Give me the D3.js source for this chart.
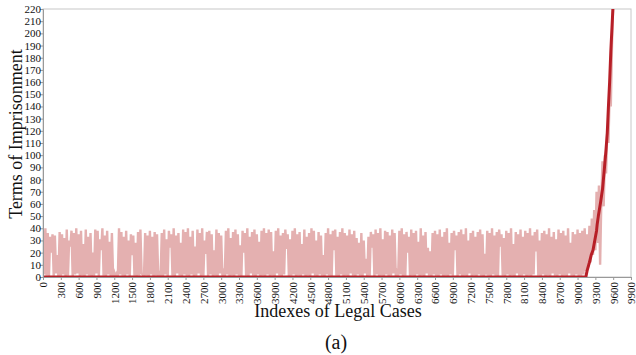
<!DOCTYPE html>
<html>
<head>
<meta charset="utf-8">
<script src="https://cdn.jsdelivr.net/npm/d3@7"></script>
<style>
  body { margin: 0; background: #fff; }
  svg, svg text { font-family: "Liberation Serif", "Times New Roman", serif !important; }
</style>
</head>
<body>
<svg id="chart" width="636" height="355"></svg>
<script>
// Actual terms (pink), one reading every 20 cases starting at case 0
const actualStep = 20;
const actualTerms = [
  38, 2, 40, 1, 36, 0, 33, 20, 35, 1,
  34, 3, 18, 0, 37, 1, 35, 2, 32, 0,
  39, 1, 30, 25, 38, 0, 36, 2, 40, 3,
  35, 0, 38, 1, 27, 0, 39, 2, 33, 1,
  36, 0, 20, 1, 39, 3, 38, 0, 31, 22,
  40, 1, 34, 0, 38, 2, 29, 0, 36, 1,
  4, 1, 3, 0, 40, 2, 37, 1, 33, 0,
  38, 2, 30, 0, 35, 18, 34, 1, 28, 0,
  37, 1, 39, 3, 2, 0, 36, 1, 34, 0,
  38, 2, 33, 0, 37, 1, 35, 0, 3, 1,
  36, 0, 39, 2, 31, 0, 38, 24, 35, 1,
  40, 0, 34, 3, 36, 1, 28, 0, 39, 2,
  37, 1, 40, 0, 33, 2, 38, 0, 25, 1,
  39, 3, 36, 0, 40, 1, 30, 19, 37, 0,
  38, 2, 35, 0, 22, 1, 39, 0, 36, 3,
  34, 1, 4, 0, 38, 2, 40, 0, 32, 1,
  37, 0, 39, 2, 35, 1, 26, 0, 38, 20,
  36, 1, 40, 0, 33, 3, 37, 1, 39, 0,
  35, 2, 29, 0, 38, 1, 40, 0, 36, 2,
  39, 0, 37, 1, 21, 0, 38, 3, 40, 1,
  34, 0, 36, 2, 39, 23, 35, 0, 31, 1,
  38, 2, 40, 0, 35, 1, 37, 0, 27, 2,
  39, 0, 33, 1, 36, 0, 40, 3, 38, 1,
  30, 0, 37, 2, 34, 1, 18, 0, 36, 2,
  40, 1, 35, 0, 38, 22, 39, 1, 33, 0,
  37, 2, 40, 0, 36, 1, 34, 0, 39, 3,
  35, 1, 38, 0, 32, 2, 28, 1, 36, 0,
  30, 3, 15, 0, 33, 1, 37, 24, 35, 0,
  39, 2, 36, 0, 40, 1, 31, 0, 38, 2,
  37, 0, 34, 1, 39, 3, 36, 0, 4, 1,
  38, 2, 40, 0, 35, 1, 37, 20, 33, 0,
  39, 1, 36, 0, 38, 2, 29, 0, 40, 1,
  34, 0, 37, 3, 24, 1, 21, 0, 36, 2,
  38, 1, 35, 0, 39, 2, 33, 0, 37, 1,
  40, 0, 28, 2, 36, 1, 38, 22, 34, 0,
  37, 2, 39, 0, 35, 1, 40, 0, 30, 3,
  36, 0, 38, 1, 33, 0, 37, 2, 39, 1,
  35, 0, 19, 2, 38, 1, 36, 0, 40, 2,
  34, 1, 37, 0, 39, 25, 35, 1, 32, 0,
  38, 2, 36, 0, 40, 1, 27, 0, 37, 3,
  35, 0, 39, 1, 33, 2, 38, 0, 36, 1,
  40, 0, 34, 2, 37, 21, 39, 1, 30, 0,
  36, 2, 38, 0, 35, 1, 40, 0, 33, 3,
  37, 1, 31, 0, 39, 2, 36, 0, 38, 1,
  34, 0, 40, 3, 28, 1, 37, 0, 35, 2,
  39, 0, 36, 1, 38, 2, 40, 5, 35, 8,
  42, 12, 48, 18, 55, 22, 70, 28, 75, 10,
  62, 95, 58, 100, 85, 120, 110, 150, 140, 190,
  225
];

// Sorted / predicted terms (dark red)
const sortedIndex = [0, 9140, 9160, 9200, 9230, 9260, 9290, 9320, 9330, 9350, 9390, 9420, 9450, 9480, 9500, 9520, 9540, 9560, 9580, 9600];
const sortedTerms = [0, 0, 5, 12, 18, 22, 30, 38, 43, 50, 62, 72, 88, 105, 118, 140, 160, 185, 205, 225];

const xTicks = [0, 300, 600, 900, 1200, 1500, 1800, 2100, 2400, 2700, 3000, 3300, 3600, 3900, 4200, 4500, 4800, 5100, 5400, 5700, 6000, 6300, 6600, 6900, 7200, 7500, 7800, 8100, 8400, 8700, 9000, 9300, 9600, 9900];
const yTicks = [0, 10, 20, 30, 40, 50, 60, 70, 80, 90, 100, 110, 120, 130, 140, 150, 160, 170, 180, 190, 200, 210, 220];

const width = 636, height = 355;
const margin = { top: 9, right: 5, bottom: 78, left: 43 };
const innerWidth = width - margin.left - margin.right;
const innerHeight = height - margin.top - margin.bottom;
const serif = '"Liberation Serif", "Times New Roman", serif';

const svg = d3.select('#chart');
const g = svg.append('g')
  .attr('transform', `translate(${margin.left},${margin.top})`);

const x = d3.scaleLinear().domain([0, 9900]).range([0, innerWidth]);
const y = d3.scaleLinear().domain([0, 220]).range([innerHeight, 0]);

g.append('clipPath').attr('id', 'plot-clip')
  .append('rect')
  .attr('width', innerWidth)
  .attr('height', innerHeight);

// Frame
g.append('rect')
  .attr('width', innerWidth)
  .attr('height', innerHeight)
  .attr('fill', 'none')
  .attr('stroke', '#c8c8c8');

const plot = g.append('g').attr('clip-path', 'url(#plot-clip)');

// Pink line
const actualLine = d3.line()
  .x((d, i) => x(i * actualStep))
  .y((d) => y(d));

plot.append('path')
  .datum(actualTerms)
  .attr('fill', 'none')
  .attr('stroke', '#e4b0b0')
  .attr('stroke-width', 2.4)
  .attr('stroke-linejoin', 'miter')
  .attr('d', actualLine);

// Dark red line
const sortedLine = d3.line()
  .x((d, i) => x(sortedIndex[i]))
  .y((d) => y(d));

plot.append('path')
  .datum(sortedTerms)
  .attr('fill', 'none')
  .attr('stroke', '#b71f27')
  .attr('stroke-width', 3)
  .attr('stroke-linejoin', 'round')
  .attr('d', sortedLine);

// Axes
const xAxis = g.append('g')
  .attr('transform', `translate(0,${innerHeight})`)
  .call(d3.axisBottom(x).tickValues(xTicks).tickSize(3).tickFormat(d3.format('d')));

xAxis.selectAll('text')
  .attr('transform', 'rotate(-90)')
  .attr('text-anchor', 'end')
  .attr('x', -5)
  .attr('y', 0)
  .attr('dy', '0.35em');

const yAxis = g.append('g')
  .call(d3.axisLeft(y).tickValues(yTicks).tickSize(3));

[xAxis, yAxis].forEach((ax) => {
  ax.attr('font-family', serif).attr('font-size', 11);
  ax.select('.domain').attr('stroke', '#999');
  ax.selectAll('.tick line').attr('stroke', '#999');
  ax.selectAll('text')
    .attr('fill', '#111')
    .style('font-size', '11px')
    .style('font-family', serif);
});
yAxis.selectAll('text').attr('x', -2);

// Titles
svg.append('text')
  .attr('transform', 'translate(22,134) rotate(-90)')
  .attr('text-anchor', 'middle')
  .style('font-family', serif)
  .style('font-size', '18px')
  .attr('fill', '#111')
  .text('Terms of Imprisonment');

svg.append('text')
  .attr('x', 338)
  .attr('y', 317)
  .attr('text-anchor', 'middle')
  .style('font-family', serif)
  .style('font-size', '18px')
  .attr('fill', '#111')
  .text('Indexes of Legal Cases');

svg.append('text')
  .attr('x', 336)
  .attr('y', 349)
  .attr('text-anchor', 'middle')
  .style('font-family', serif)
  .style('font-size', '20px')
  .attr('fill', '#111')
  .text('(a)');
</script>
</body>
</html>
